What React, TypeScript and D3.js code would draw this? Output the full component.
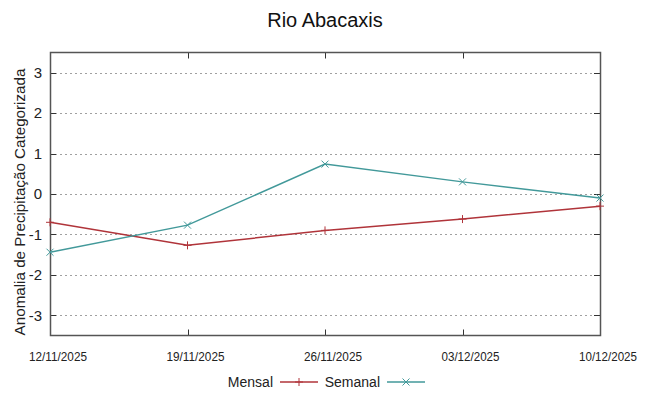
import React, { useEffect, useRef } from 'react';
import * as d3 from 'd3';

const dates = ['12/11/2025', '19/11/2025', '26/11/2025', '03/12/2025', '10/12/2025'];
const mensal = [-0.7, -1.27, -0.9, -0.62, -0.3];
const semanal = [-1.44, -0.77, 0.74, 0.3, -0.1];
const yTicks = [-3, -2, -1, 0, 1, 2, 3];

const width = 648;
const height = 396;
const marginTop = 52.5;
const marginRight = 48;
const marginBottom = 60.5;
const marginLeft = 50;

const App = () => {
  const svgRef = useRef<SVGSVGElement>(null);

  useEffect(() => {
    const svg = d3.select(svgRef.current);
    svg.selectAll('*').remove();
    svg.attr('font-family', 'Liberation Sans, Arial, sans-serif');

    const x = d3.scalePoint<string>()
      .domain(dates)
      .range([marginLeft, width - marginRight]);
    const y = d3.scaleLinear()
      .domain([-3.5, 3.5])
      .range([height - marginBottom, marginTop]);

    // grid
    svg.append('g')
      .selectAll('line')
      .data(yTicks)
      .join('line')
      .attr('x1', marginLeft)
      .attr('x2', width - marginRight)
      .attr('y1', d => Math.round(y(d)) + 0.5)
      .attr('y2', d => Math.round(y(d)) + 0.5)
      .attr('stroke', '#a0a0a0')
      .attr('stroke-dasharray', '2,3');

    // ticks (inward, mirrored)
    const tk = svg.append('g').attr('stroke', '#333');
    yTicks.forEach(t => {
      const yy = Math.round(y(t)) + 0.5;
      tk.append('line').attr('x1', marginLeft).attr('x2', marginLeft + 6).attr('y1', yy).attr('y2', yy);
      tk.append('line').attr('x1', width - marginRight - 6).attr('x2', width - marginRight).attr('y1', yy).attr('y2', yy);
    });
    dates.forEach(d => {
      const xx = Math.round(x(d)!) + 0.5;
      tk.append('line').attr('x1', xx).attr('x2', xx).attr('y1', height - marginBottom).attr('y2', height - marginBottom - 6);
      tk.append('line').attr('x1', xx).attr('x2', xx).attr('y1', marginTop).attr('y2', marginTop + 6);
    });

    // border
    svg.append('rect')
      .attr('x', marginLeft + 0.5)
      .attr('y', marginTop)
      .attr('width', width - marginLeft - marginRight)
      .attr('height', height - marginTop - marginBottom)
      .attr('fill', 'none')
      .attr('stroke', '#555')
      .attr('stroke-width', 1.5);

    // y tick labels
    svg.append('g')
      .selectAll('text')
      .data(yTicks)
      .join('text')
      .attr('x', marginLeft - 8)
      .attr('y', d => y(d))
      .attr('dy', '0.35em')
      .attr('text-anchor', 'end')
      .attr('font-size', 15)
      .attr('fill', '#222')
      .text(d => d);

    // x tick labels (shifted right like the original)
    svg.append('g')
      .selectAll('text')
      .data(dates)
      .join('text')
      .attr('x', d => x(d)! + 8)
      .attr('y', height - marginBottom + 25.5)
      .attr('text-anchor', 'middle')
      .attr('font-size', 12)
      .attr('textLength', 58)
      .attr('lengthAdjust', 'spacingAndGlyphs')
      .attr('fill', '#222')
      .text(d => d);

    // y axis label
    svg.append('text')
      .attr('transform', `translate(25,202) rotate(-90)`)
      .attr('text-anchor', 'middle')
      .attr('font-size', 15.2)
      .attr('fill', '#222')
      .text('Anomalia de Precipitação Categorizada');

    // title
    svg.append('text')
      .attr('x', 325)
      .attr('y', 27)
      .attr('text-anchor', 'middle')
      .attr('font-size', 20)
      .attr('fill', '#111')
      .text('Rio Abacaxis');

    const series = [
      { name: 'Mensal', values: mensal, color: '#b0343a', marker: 'plus' },
      { name: 'Semanal', values: semanal, color: '#42999a', marker: 'cross' },
    ];

    const line = d3.line<number>()
      .x((_, i) => x(dates[i])!)
      .y(d => y(d));

    const drawMarker = (g: any, cx: number, cy: number, kind: string, color: string) => {
      const s = 4;
      if (kind === 'plus') {
        g.append('line').attr('x1', cx - s).attr('x2', cx + s).attr('y1', cy).attr('y2', cy).attr('stroke', color);
        g.append('line').attr('x1', cx).attr('x2', cx).attr('y1', cy - s).attr('y2', cy + s).attr('stroke', color);
      } else {
        const t = 3.5;
        g.append('line').attr('x1', cx - t).attr('x2', cx + t).attr('y1', cy - t).attr('y2', cy + t).attr('stroke', color);
        g.append('line').attr('x1', cx - t).attr('x2', cx + t).attr('y1', cy + t).attr('y2', cy - t).attr('stroke', color);
      }
    };

    series.forEach(s => {
      svg.append('path')
        .datum(s.values)
        .attr('fill', 'none')
        .attr('stroke', s.color)
        .attr('stroke-width', 1.5)
        .attr('d', line);
      const g = svg.append('g');
      s.values.forEach((v, i) => drawMarker(g, x(dates[i])!, y(v), s.marker, s.color));
    });

    // legend
    const ly = 382;
    const legendItems = [
      { textEnd: 273, x0: 280, x1: 318 },
      { textEnd: 380, x0: 387, x1: 425 },
    ];
    series.forEach((s, i) => {
      const li = legendItems[i];
      svg.append('text')
        .attr('x', li.textEnd)
        .attr('y', ly)
        .attr('dy', '0.35em')
        .attr('text-anchor', 'end')
        .attr('font-size', 14)
        .attr('fill', '#222')
        .text(s.name);
      svg.append('line')
        .attr('x1', li.x0).attr('x2', li.x1)
        .attr('y1', ly).attr('y2', ly)
        .attr('stroke', s.color).attr('stroke-width', 1.5);
      const g = svg.append('g');
      drawMarker(g, (li.x0 + li.x1) / 2, ly, s.marker, s.color);
    });
  }, []);

  return (
    <svg ref={svgRef} width={width} height={height}
      style={{ position: 'absolute', left: 0, top: 0, background: '#fff' }} />
  );
};

export default App;
